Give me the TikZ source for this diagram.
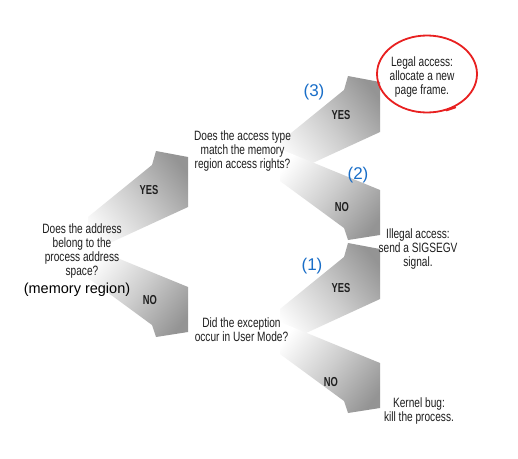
\documentclass[tikz,border=0pt]{standalone}
\usepackage{fontspec}
\setmainfont{Liberation Sans}
\newfontfamily\condfont[FakeStretch=0.75]{Liberation Sans}
\newfontfamily\labfont[FakeStretch=0.72]{Liberation Sans}
\usetikzlibrary{shapes.geometric}
\definecolor{txt}{RGB}{30,30,30}
\definecolor{numblue}{RGB}{25,110,200}
\definecolor{ringred}{RGB}{232,32,32}
\definecolor{arrowgray}{RGB}{148,148,148}
\definecolor{arrowmid}{RGB}{205,205,205}
\pgfdeclarehorizontalshading{arrowshade}{100bp}{color(0bp)=(white); color(22bp)=(white); color(50bp)=(arrowmid); color(78bp)=(arrowgray); color(100bp)=(arrowgray)}
\tikzset{
  qtext/.style={align=center, inner sep=0pt, text=txt, font=\condfont\fontsize{13.5}{14}\selectfont},
  lab/.style={inner sep=0pt, text=black!88, font=\labfont\bfseries\fontsize{13}{14}\selectfont},
  num/.style={inner sep=0pt, text=numblue, font=\fontsize{17}{20}\selectfont},
  ringline/.style={draw=ringred, line width=1.8pt},
  uparrowshape/.pic={
    \shade[shading=arrowshade, shading angle=38]
      (-100,60) -- (-36,8) -- (-32,-6) -- (0,0) -- (0,50) -- (-100,96) -- cycle;
  },
  downarrowshape/.pic={
    \shade[shading=arrowshade, shading angle=-38]
      (-100,-41) -- (0,0) -- (0,45) -- (-32,50) -- (-36,38) -- (-100,-9) -- cycle;
  }
}
\begin{document}
\begin{tikzpicture}[x=1pt,y=-1pt]
\fill[white] (0,0) rectangle (518,458);
\useasboundingbox (0,0) rectangle (518,458);

% block arrows
\pic at (188,157) {uparrowshape};
\pic at (188,287) {downarrowshape};
\pic at (380,82) {uparrowshape};
\pic at (380,190) {downarrowshape};
\pic at (380,249) {uparrowshape};
\pic at (380,363) {downarrowshape};

% texts
\node[qtext] (root) at (82,250.7) {Does the address\\belong to the\\process address\\space?};
\node[inner sep=0pt, anchor=base, text=black, font=\fontsize{14.5}{16}\selectfont] (memreg) at (77,293) {(memory region)};
\node[qtext] (q2) at (242.5,150.6) {Does the access type\\match the memory\\region access rights?};
\node[qtext] (q3) at (241.5,329.3) {Did the exception\\occur in User Mode?};
\node[qtext] (legal) at (422,76.6) {Legal access:\\allocate a new\\page frame.};
\node[qtext] (illegal) at (418,248.6) {Illegal access:\\send a SIGSEGV\\signal.};
\node[qtext] (kernel) at (419,410.7) {Kernel bug:\\kill the process.};

\node[ellipse, ringline, minimum width=100pt, minimum height=77pt, inner sep=0pt] (ring) at (427,74) {};
\draw[ringline, line cap=round] (ring.-62) -- ++(9,-3);

% arrow labels
\node[lab] (yes1) at (149,190) {YES};
\node[lab] (no1) at (150,300) {NO};
\node[lab] (yes2) at (341,115) {YES};
\node[lab] (no2) at (342,207) {NO};
\node[lab] (yes3) at (341,288) {YES};
\node[lab] (no3) at (331,382) {NO};

% blue numbers
\node[num] (n3) at (314,92) {(3)};
\node[num] (n2) at (358,175) {(2)};
\node[num] (n1) at (312,266) {(1)};
\end{tikzpicture}
\end{document}
